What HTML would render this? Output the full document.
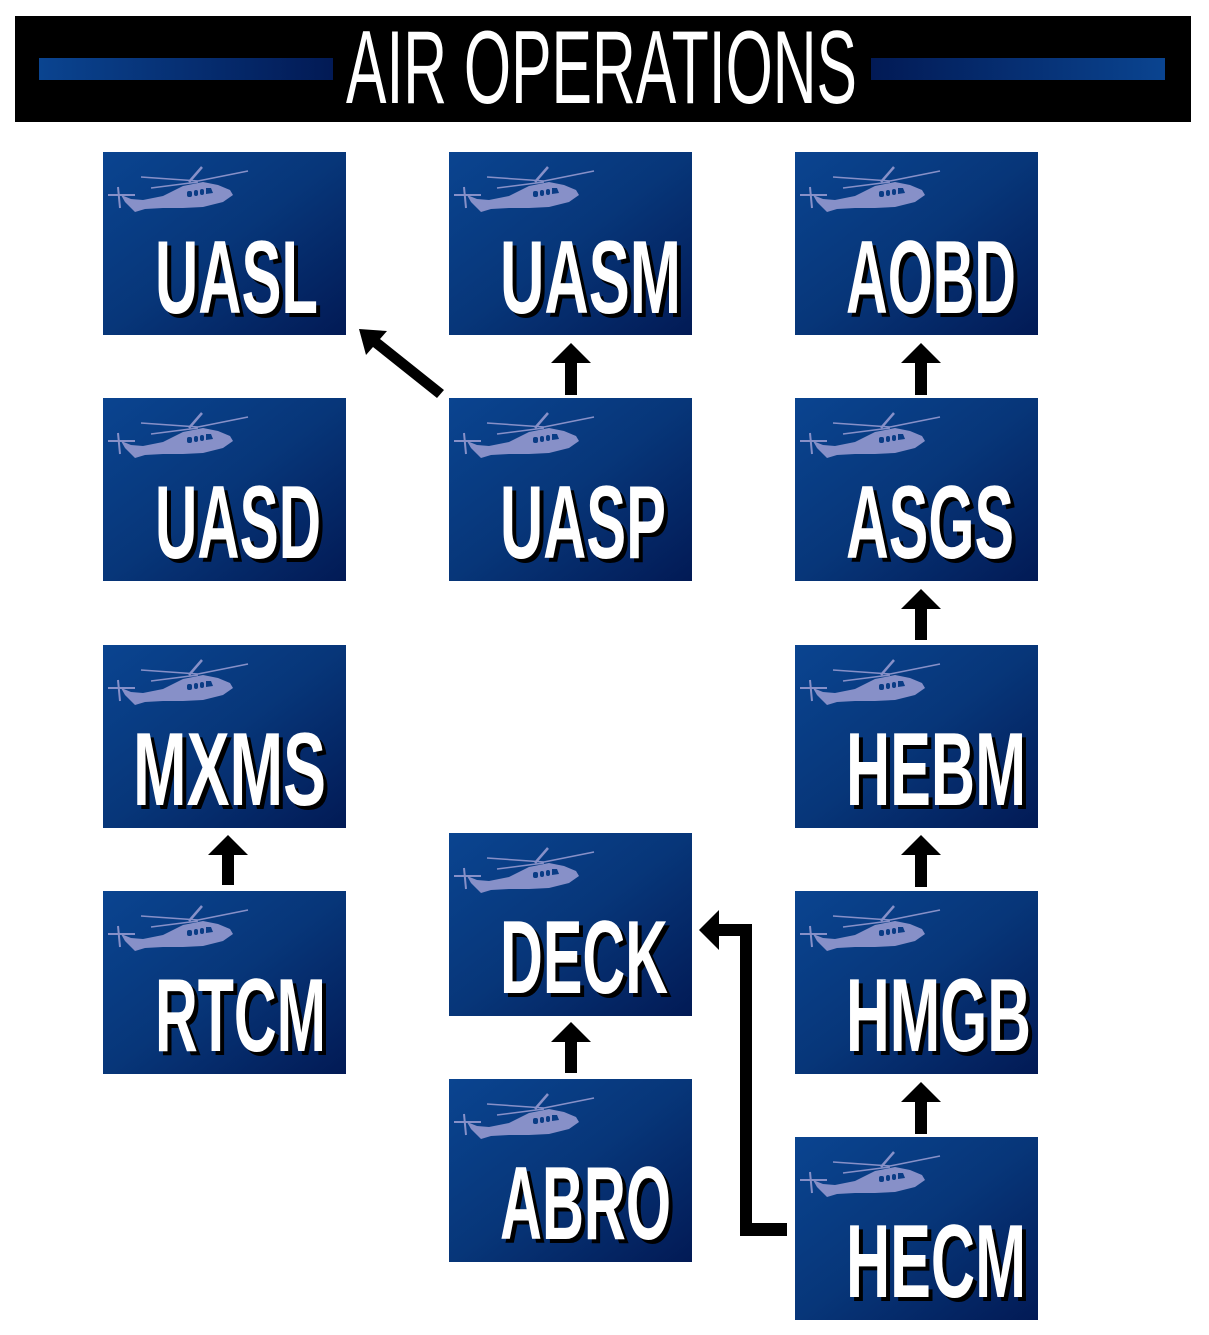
<!DOCTYPE html>
<html><head><meta charset="utf-8"><style>
html,body{margin:0;padding:0;background:#fff;width:1209px;height:1335px;overflow:hidden}
svg{display:block}
.t{font-family:"Liberation Sans Narrow","Liberation Sans",sans-serif;font-weight:bold;font-size:104px}
</style></head><body>
<svg width="1209" height="1335" viewBox="0 0 1209 1335" xmlns="http://www.w3.org/2000/svg">
<defs>
<linearGradient id="g" x1="0" y1="0" x2="1" y2="1">
<stop offset="0" stop-color="#0a4490"/><stop offset="0.5" stop-color="#073679"/><stop offset="1" stop-color="#021a55"/>
</linearGradient>
<linearGradient id="bar" x1="0" y1="0" x2="1" y2="0">
<stop offset="0" stop-color="#0a4490"/><stop offset="1" stop-color="#021a55"/>
</linearGradient>
<linearGradient id="bar2" x1="0" y1="0" x2="1" y2="0">
<stop offset="0" stop-color="#021a55"/><stop offset="1" stop-color="#0a4490"/>
</linearGradient>
<g id="heli" fill="#8790c8" stroke="#8790c8">
<line x1="5" y1="43" x2="32" y2="43" stroke-width="2"/>
<line x1="15" y1="35" x2="17" y2="56" stroke-width="2"/>
<line x1="38" y1="25" x2="95" y2="29" stroke-width="1.5"/>
<line x1="95" y1="29" x2="145" y2="19" stroke-width="1.5"/>
<line x1="48" y1="36" x2="95" y2="30" stroke-width="1.5"/>
<line x1="86" y1="30" x2="99" y2="15" stroke-width="2.5"/>
<path stroke="none" d="M18 43 L28 47 L40 48 L60 44 L80 34 L100 30 L115 33 L127 38 L130 43 L120 50 L100 55 L80 56 L60 56 L42 57 L32 60 L28 56 L22 50 Z"/>
<g fill="#0a3c85" stroke="none"><rect x="84" y="39" width="5" height="6" rx="2"/><rect x="91" y="38" width="4" height="6" rx="2"/><rect x="97" y="37" width="4" height="6" rx="2"/><path d="M103 36 L108 36 L110 41 L103 42 Z"/></g>
</g>
</defs>

<rect x="15" y="16" width="1176" height="106" fill="#000"/>
<rect x="39" y="58" width="294" height="22" fill="url(#bar)"/>
<rect x="871" y="58" width="294" height="22" fill="url(#bar2)"/>
<text class="t" x="346" y="103" font-size="92" font-weight="normal" fill="#fff" textLength="511" lengthAdjust="spacingAndGlyphs" style="font-weight:normal">AIR OPERATIONS</text>

<!-- boxes -->
<g>
<rect x="103" y="152" width="243" height="183" fill="url(#g)"/><use href="#heli" x="103" y="152"/>
<rect x="449" y="152" width="243" height="183" fill="url(#g)"/><use href="#heli" x="449" y="152"/>
<rect x="795" y="152" width="243" height="183" fill="url(#g)"/><use href="#heli" x="795" y="152"/>
<rect x="103" y="398" width="243" height="183" fill="url(#g)"/><use href="#heli" x="103" y="398"/>
<rect x="449" y="398" width="243" height="183" fill="url(#g)"/><use href="#heli" x="449" y="398"/>
<rect x="795" y="398" width="243" height="183" fill="url(#g)"/><use href="#heli" x="795" y="398"/>
<rect x="103" y="645" width="243" height="183" fill="url(#g)"/><use href="#heli" x="103" y="645"/>
<rect x="795" y="645" width="243" height="183" fill="url(#g)"/><use href="#heli" x="795" y="645"/>
<rect x="103" y="891" width="243" height="183" fill="url(#g)"/><use href="#heli" x="103" y="891"/>
<rect x="795" y="891" width="243" height="183" fill="url(#g)"/><use href="#heli" x="795" y="891"/>
<rect x="449" y="833" width="243" height="183" fill="url(#g)"/><use href="#heli" x="449" y="833"/>
<rect x="449" y="1079" width="243" height="183" fill="url(#g)"/><use href="#heli" x="449" y="1079"/>
<rect x="795" y="1137" width="243" height="183" fill="url(#g)"/><use href="#heli" x="795" y="1137"/>
</g>

<!-- labels: shadow then white -->
<g class="t">
<g fill="#000" transform="translate(4,4)">
<text x="155" y="313" textLength="163" lengthAdjust="spacingAndGlyphs">UASL</text>
<text x="500" y="313" textLength="181" lengthAdjust="spacingAndGlyphs">UASM</text>
<text x="846" y="313" textLength="170" lengthAdjust="spacingAndGlyphs">AOBD</text>
<text x="155" y="558" textLength="166" lengthAdjust="spacingAndGlyphs">UASD</text>
<text x="500" y="558" textLength="166" lengthAdjust="spacingAndGlyphs">UASP</text>
<text x="846" y="558" textLength="168" lengthAdjust="spacingAndGlyphs">ASGS</text>
<text x="133" y="805" textLength="193" lengthAdjust="spacingAndGlyphs">MXMS</text>
<text x="846" y="805" textLength="180" lengthAdjust="spacingAndGlyphs">HEBM</text>
<text x="155" y="1051" textLength="171" lengthAdjust="spacingAndGlyphs">RTCM</text>
<text x="846" y="1051" textLength="185" lengthAdjust="spacingAndGlyphs">HMGB</text>
<text x="500" y="993" textLength="168" lengthAdjust="spacingAndGlyphs">DECK</text>
<text x="500" y="1239" textLength="171" lengthAdjust="spacingAndGlyphs">ABRO</text>
<text x="846" y="1297" textLength="180" lengthAdjust="spacingAndGlyphs">HECM</text>
</g>
<g fill="#fff">
<text x="155" y="313" textLength="163" lengthAdjust="spacingAndGlyphs">UASL</text>
<text x="500" y="313" textLength="181" lengthAdjust="spacingAndGlyphs">UASM</text>
<text x="846" y="313" textLength="170" lengthAdjust="spacingAndGlyphs">AOBD</text>
<text x="155" y="558" textLength="166" lengthAdjust="spacingAndGlyphs">UASD</text>
<text x="500" y="558" textLength="166" lengthAdjust="spacingAndGlyphs">UASP</text>
<text x="846" y="558" textLength="168" lengthAdjust="spacingAndGlyphs">ASGS</text>
<text x="133" y="805" textLength="193" lengthAdjust="spacingAndGlyphs">MXMS</text>
<text x="846" y="805" textLength="180" lengthAdjust="spacingAndGlyphs">HEBM</text>
<text x="155" y="1051" textLength="171" lengthAdjust="spacingAndGlyphs">RTCM</text>
<text x="846" y="1051" textLength="185" lengthAdjust="spacingAndGlyphs">HMGB</text>
<text x="500" y="993" textLength="168" lengthAdjust="spacingAndGlyphs">DECK</text>
<text x="500" y="1239" textLength="171" lengthAdjust="spacingAndGlyphs">ABRO</text>
<text x="846" y="1297" textLength="180" lengthAdjust="spacingAndGlyphs">HECM</text>
</g>
</g>

<!-- vertical arrows -->
<g fill="#000">
<path d="M571 343 L591 363 L577 363 L577 395 L565 395 L565 363 L551 363 Z"/>
<path d="M921 343 L941 363 L927 363 L927 395 L915 395 L915 363 L901 363 Z"/>
<path d="M921 589 L941 609 L927 609 L927 640 L915 640 L915 609 L901 609 Z"/>
<path d="M921 835 L941 855 L927 855 L927 887 L915 887 L915 855 L901 855 Z"/>
<path d="M921 1082 L941 1102 L927 1102 L927 1134 L915 1134 L915 1102 L901 1102 Z"/>
<path d="M228 835 L248 855 L234 855 L234 885 L222 885 L222 855 L208 855 Z"/>
<path d="M571 1022 L591 1042 L577 1042 L577 1073 L565 1073 L565 1042 L551 1042 Z"/>
<!-- diagonal -->
<path d="M359 329 L387 331 L380 339 L444 390 L437 398 L373 347 L366 355 Z"/>
<!-- elbow -->
<path d="M699 930 L719 910 L719 924 L752 924 L752 1223 L787 1223 L787 1236 L740 1236 L740 936 L719 936 L719 950 Z"/>
</g>
</svg>
</body></html>
